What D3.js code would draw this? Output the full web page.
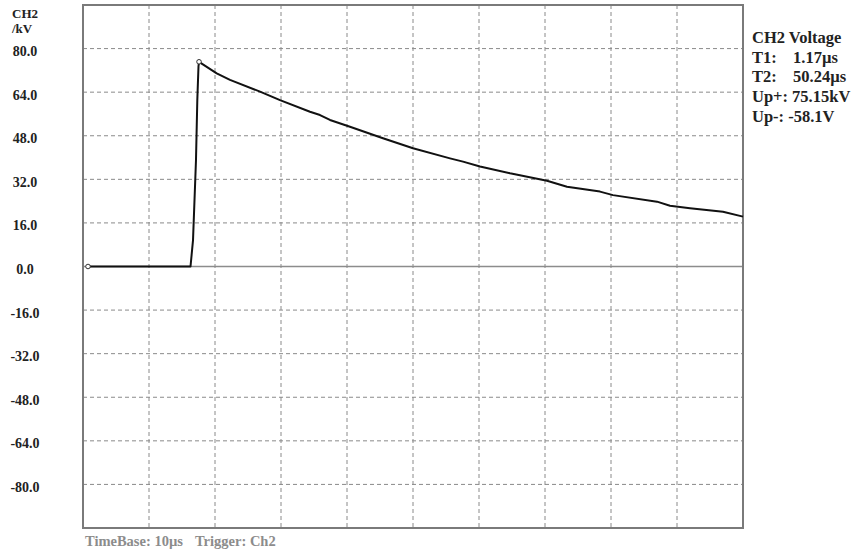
<!DOCTYPE html>
<html>
<head>
<meta charset="utf-8">
<script src="https://cdn.jsdelivr.net/npm/d3@7"></script>
<style>
  body { margin: 0; background: #fff; }
  svg text { font-family: "Liberation Serif", "Times New Roman", serif; font-weight: bold; }
</style>
</head>
<body>
<div id="scope"></div>
<script>
// waveform samples (time in us, voltage in kV)
var timeUs = [0.76, 16.29, 16.67, 17.12, 17.32, 17.5, 17.58, 20.26, 22.27, 26.82, 29.85, 34.39, 35.91,
    37.42, 40.45, 45.45, 50.0, 55.61, 57.58, 60.15, 64.7, 70.3, 73.33, 78.33, 80.3, 86.97, 88.94,
    91.97, 96.97, 100];
var voltageKv = [0, 0, 9.7, 39.1, 61.1, 73.6, 75.15, 70.9, 68.5, 64.2, 61.1, 56.8, 55.6,
    53.8, 51.3, 47.1, 43.4, 39.7, 38.5, 36.7, 34.2, 31.5, 29.3, 27.5, 26.2, 23.8, 22.3,
    21.4, 20.1, 18.3];

var timeGrid = [10, 20, 30, 40, 50, 60, 70, 80, 90];
var voltTicks = [80, 64, 48, 32, 16, 0, -16, -32, -48, -64, -80];
var voltLabels = ["80.0", "64.0", "48.0", "32.0", "16.0", "0.0", "-16.0", "-32.0", "-48.0", "-64.0", "-80.0"];

// measurement readout: name and value, value column used only for T1/T2
var infoNames = ["CH2 Voltage", "T1:", "T2:", "Up+: 75.15kV", "Up-: -58.1V"];
var infoValues = ["", "1.17\u00b5s", "50.24\u00b5s", "", ""];

var width = 864, height = 556;
var plot = {left: 83, top: 5, right: 743, bottom: 528};

var svg = d3.select("#scope").append("svg")
    .attr("width", width)
    .attr("height", height);

var xScale = d3.scaleLinear().domain([0, 100]).range([plot.left, plot.right]);
var yScale = d3.scaleLinear().domain([-96, 96]).range([plot.bottom, plot.top]);

// dashed grid
svg.selectAll("line.vgrid")
    .data(timeGrid)
    .enter()
    .append("line")
    .attr("class", "vgrid")
    .attr("x1", function(d) { return xScale(d); })
    .attr("x2", function(d) { return xScale(d); })
    .attr("y1", plot.top)
    .attr("y2", plot.bottom)
    .attr("stroke", "#8a8a8a")
    .attr("stroke-width", 1)
    .attr("stroke-dasharray", "4,3");

svg.selectAll("line.hgrid")
    .data(voltTicks.filter(function(d) { return d !== 0; }))
    .enter()
    .append("line")
    .attr("class", "hgrid")
    .attr("x1", plot.left)
    .attr("x2", plot.right)
    .attr("y1", function(d) { return yScale(d); })
    .attr("y2", function(d) { return yScale(d); })
    .attr("stroke", "#8a8a8a")
    .attr("stroke-width", 1)
    .attr("stroke-dasharray", "4,3");

// zero line
svg.append("line")
    .attr("x1", plot.left)
    .attr("x2", plot.right)
    .attr("y1", yScale(0))
    .attr("y2", yScale(0))
    .attr("stroke", "#8c8c8c")
    .attr("stroke-width", 1.5);

// frame
svg.append("rect")
    .attr("x", plot.left)
    .attr("y", plot.top)
    .attr("width", plot.right - plot.left)
    .attr("height", plot.bottom - plot.top)
    .attr("fill", "none")
    .attr("stroke", "#7a7a7a")
    .attr("stroke-width", 2);

// y labels
svg.selectAll("text.ylab")
    .data(voltTicks)
    .enter()
    .append("text")
    .attr("class", "ylab")
    .attr("x", 25)
    .attr("y", function(d) { return yScale(d) + 7.5; })
    .attr("text-anchor", "middle")
    .attr("font-size", "14px")
    .attr("fill", "#222")
    .text(function(d, i) { return voltLabels[i]; });

svg.append("text").attr("x", 12).attr("y", 18).attr("font-size", "13px").attr("fill", "#222").text("CH2");
svg.append("text").attr("x", 12).attr("y", 33).attr("font-size", "13px").attr("fill", "#222").text("/kV");

// waveform
var pts = timeUs.map(function(t, i) { return [t, voltageKv[i]]; });
var line = d3.line()
    .x(function(d) { return xScale(d[0]); })
    .y(function(d) { return yScale(d[1]); });

svg.append("path")
    .datum(pts)
    .attr("d", line)
    .attr("fill", "none")
    .attr("stroke", "#111")
    .attr("stroke-width", 2)
    .attr("stroke-linejoin", "round");

// cursor markers at start and peak
var peakIdx = d3.maxIndex(voltageKv);
svg.selectAll("circle.mark")
    .data([pts[0], pts[peakIdx]])
    .enter()
    .append("circle")
    .attr("class", "mark")
    .attr("cx", function(d) { return xScale(d[0]); })
    .attr("cy", function(d) { return yScale(d[1]); })
    .attr("r", 2.3)
    .attr("fill", "#fff")
    .attr("stroke", "#333")
    .attr("stroke-width", 1);

// measurement info
var info = svg.selectAll("g.info")
    .data(infoNames)
    .enter()
    .append("g")
    .attr("class", "info")
    .attr("transform", function(d, i) { return "translate(752," + (43 + i * 19.7) + ")"; });

info.append("text")
    .attr("font-size", "16.5px")
    .attr("fill", "#222")
    .text(function(d) { return d; });

info.append("text")
    .attr("x", 41)
    .attr("font-size", "16.5px")
    .attr("fill", "#222")
    .text(function(d, i) { return infoValues[i]; });

// footer
svg.append("text").attr("x", 85).attr("y", 546).attr("font-size", "14.5px").attr("fill", "#8c8c8c").text("TimeBase: 10\u00b5s");
svg.append("text").attr("x", 195).attr("y", 546).attr("font-size", "14.5px").attr("fill", "#8c8c8c").text("Trigger: Ch2");
</script>
</body>
</html>
